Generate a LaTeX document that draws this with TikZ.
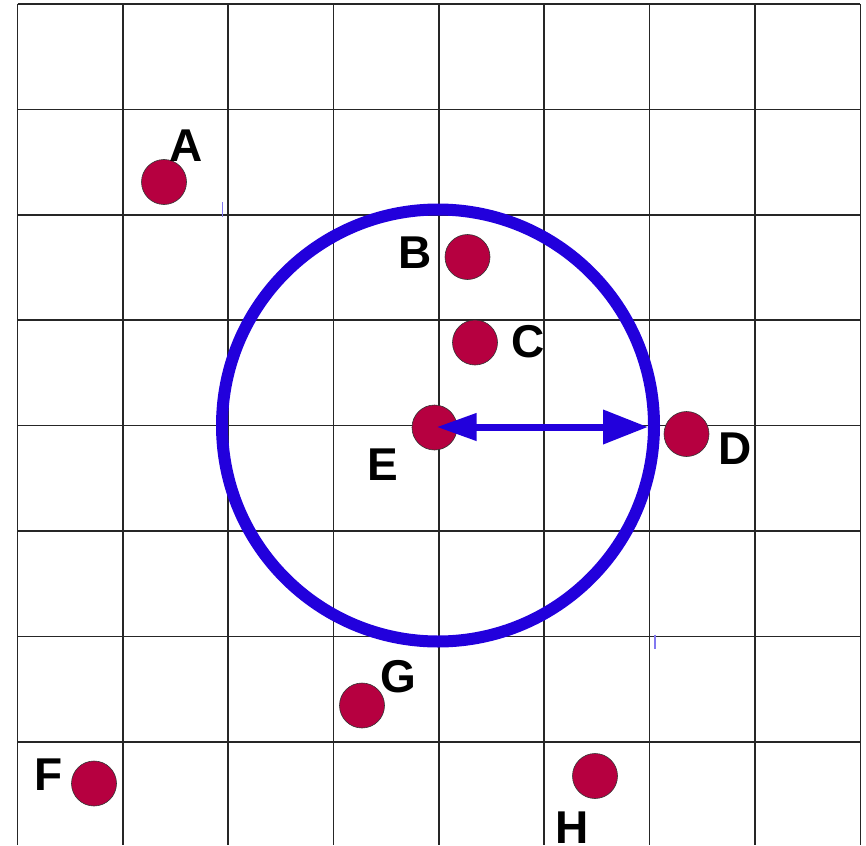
\documentclass[tikz,border=0pt]{standalone}
\usepackage{fontspec}
\setmainfont{Liberation Sans}
\usetikzlibrary{arrows.meta}
\definecolor{dotred}{RGB}{182,0,64}
\definecolor{ringblue}{RGB}{34,0,220}
\definecolor{tickblue}{RGB}{130,120,240}
\begin{document}
\begin{tikzpicture}[x=1pt,y=-1pt,
  gridline/.style={line width=1.6pt,black!85},
  dot/.style={circle,fill=dotred,draw=black!80,line width=0.6pt,minimum size=45pt,inner sep=0pt},
  lbl/.style={font=\fontsize{46}{50}\selectfont\bfseries,inner sep=0pt,text=black},
  tick/.style={line width=1.3pt,tickblue}]
\useasboundingbox (0,0) rectangle (866,845);
\fill[white] (0,0) rectangle (866,845);
% grid
\foreach \i in {0,...,8}{
  \draw[gridline] ({17.5+105.35*\i},4) -- ({17.5+105.35*\i},845);
}
\foreach \j in {0,...,7}{
  \draw[gridline] (17.5,{4+105.4*\j}) -- (860.3,{4+105.4*\j});
}
% circle
\node[circle,draw=ringblue,line width=12pt,minimum size=432pt,inner sep=0pt] (ring) at (438,425.5) {};
% dots
\node[dot] (A) at (164,182) {};
\node[dot] (B) at (467.5,257) {};
\node[dot] (C) at (475,342.5) {};
\node[dot] (D) at (686.5,434) {};
\node[dot] (E) at (434.5,427.5) {};
\node[dot] (F) at (94,783.5) {};
\node[dot] (G) at (362,705.5) {};
\node[dot] (H) at (595,776) {};
% labels
\node[lbl] (lA) at (186,146) {A};
\node[lbl] (lB) at (415.5,253) {B};
\node[lbl] (lC) at (528,341.5) {C};
\node[lbl] (lD) at (735,448.5) {D};
\node[lbl] (lE) at (383,465) {E};
\node[lbl] (lF) at (48.5,775) {F};
\node[lbl] (lG) at (398,677) {G};
\node[lbl] (lH) at (572,828) {H};
% radius arrow
\coordinate (rimR) at (648,427);
\coordinate (ctr) at (436.5,427);
\draw[ringblue,line width=7pt,{Triangle[length=40pt,width=26pt]}-{Triangle[length=45pt,width=33pt]}] (ctr) -- (rimR);
% small tick marks
\coordinate (t1a) at (222.5,202);
\coordinate (t1b) at (222.5,216.5);
\coordinate (t2a) at (655,634.5);
\coordinate (t2b) at (655,649);
\draw[tick] (t1a) -- (t1b);
\draw[tick] (t2a) -- (t2b);
\end{tikzpicture}
\end{document}
